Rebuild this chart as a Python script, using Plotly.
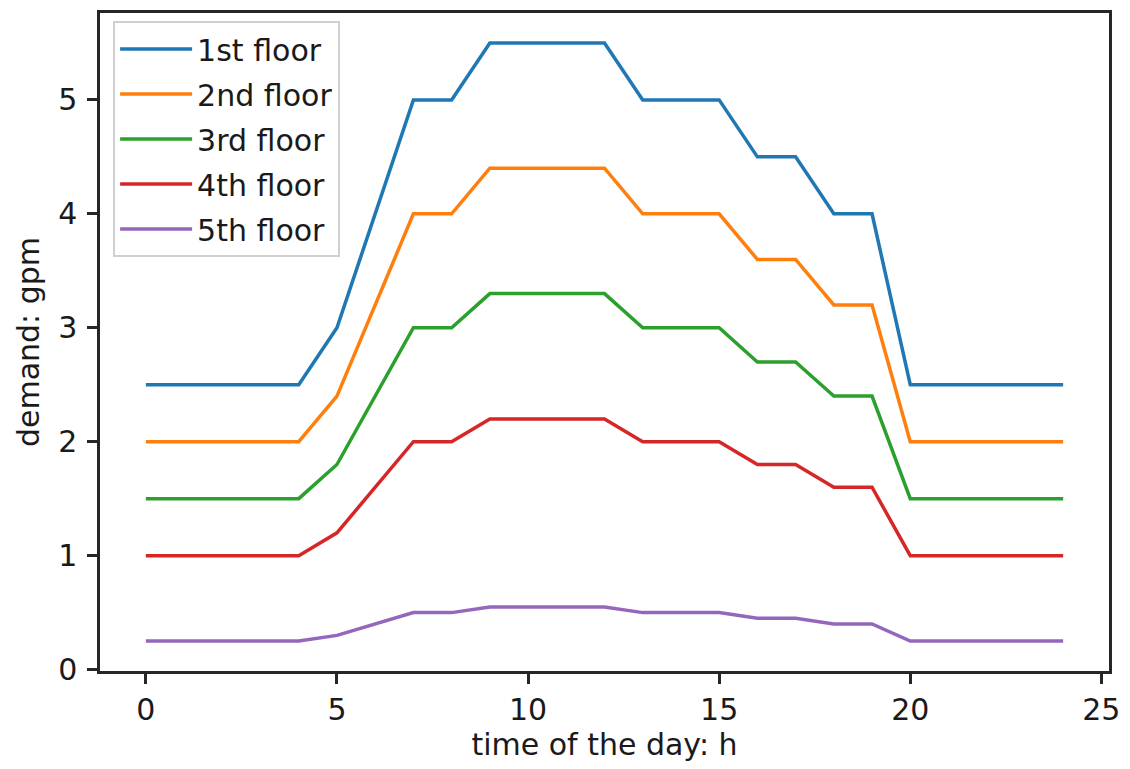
import plotly.graph_objects as go

hours = list(range(25))
floor1 = [2.5, 2.5, 2.5, 2.5, 2.5, 3.0, 4.0, 5.0, 5.0, 5.5, 5.5, 5.5, 5.5, 5.0, 5.0, 5.0, 4.5, 4.5, 4.0, 4.0, 2.5, 2.5, 2.5, 2.5, 2.5]
floor2 = [2.0, 2.0, 2.0, 2.0, 2.0, 2.4, 3.2, 4.0, 4.0, 4.4, 4.4, 4.4, 4.4, 4.0, 4.0, 4.0, 3.6, 3.6, 3.2, 3.2, 2.0, 2.0, 2.0, 2.0, 2.0]
floor3 = [1.5, 1.5, 1.5, 1.5, 1.5, 1.8, 2.4, 3.0, 3.0, 3.3, 3.3, 3.3, 3.3, 3.0, 3.0, 3.0, 2.7, 2.7, 2.4, 2.4, 1.5, 1.5, 1.5, 1.5, 1.5]
floor4 = [1.0, 1.0, 1.0, 1.0, 1.0, 1.2, 1.6, 2.0, 2.0, 2.2, 2.2, 2.2, 2.2, 2.0, 2.0, 2.0, 1.8, 1.8, 1.6, 1.6, 1.0, 1.0, 1.0, 1.0, 1.0]
floor5 = [0.25, 0.25, 0.25, 0.25, 0.25, 0.3, 0.4, 0.5, 0.5, 0.55, 0.55, 0.55, 0.55, 0.5, 0.5, 0.5, 0.45, 0.45, 0.4, 0.4, 0.25, 0.25, 0.25, 0.25, 0.25]

names = ["1st floor", "2nd floor", "3rd floor", "4th floor", "5th floor"]
colors = ["#1f77b4", "#ff7f0e", "#2ca02c", "#d62728", "#9467bd"]
series = [floor1, floor2, floor3, floor4, floor5]

x_ticks = [0, 5, 10, 15, 20, 25]
y_ticks = [0, 1, 2, 3, 4, 5]

FONT = "DejaVu Sans"
fig = go.Figure()
for i, (name, color, ys) in enumerate(zip(names, colors, series)):
    fig.add_trace(go.Scatter(x=hours, y=ys, mode="lines", name=name,
                             legendgroup=f"g{i}",
                             line=dict(color=color, width=3.5)))

axis_common = dict(
    showline=True, mirror=True, linecolor="#262626", linewidth=2.5,
    ticks="outside", ticklen=10, tickwidth=2.5, tickcolor="#262626",
    showgrid=False, zeroline=False,
    tickfont=dict(family=FONT, size=30, color="#1a1a1a"),
)

fig.update_layout(
    width=1130, height=769,
    margin=dict(l=100, r=15, t=10, b=98),
    paper_bgcolor="white", plot_bgcolor="white",
    font=dict(family=FONT, size=30, color="#1a1a1a"),
    xaxis=dict(range=[-1.2, 25.2], tickvals=x_ticks,
               title=dict(text="time of the day: h", font=dict(family=FONT, size=30), standoff=8),
               **axis_common),
    yaxis=dict(range=[-0.0125, 5.7625], tickvals=y_ticks,
               title=dict(text="demand: gpm", font=dict(family=FONT, size=30), standoff=10),
               ticklabelstandoff=4,
               **axis_common),
    legend=dict(x=0.013, y=0.988, xanchor="left", yanchor="top",
                bgcolor="white", bordercolor="#d0d0d0", borderwidth=2,
                font=dict(family=FONT, size=30, color="#1a1a1a"),
                itemwidth=72, tracegroupgap=3),
    showlegend=True,
)

fig.write_html("out.html")
